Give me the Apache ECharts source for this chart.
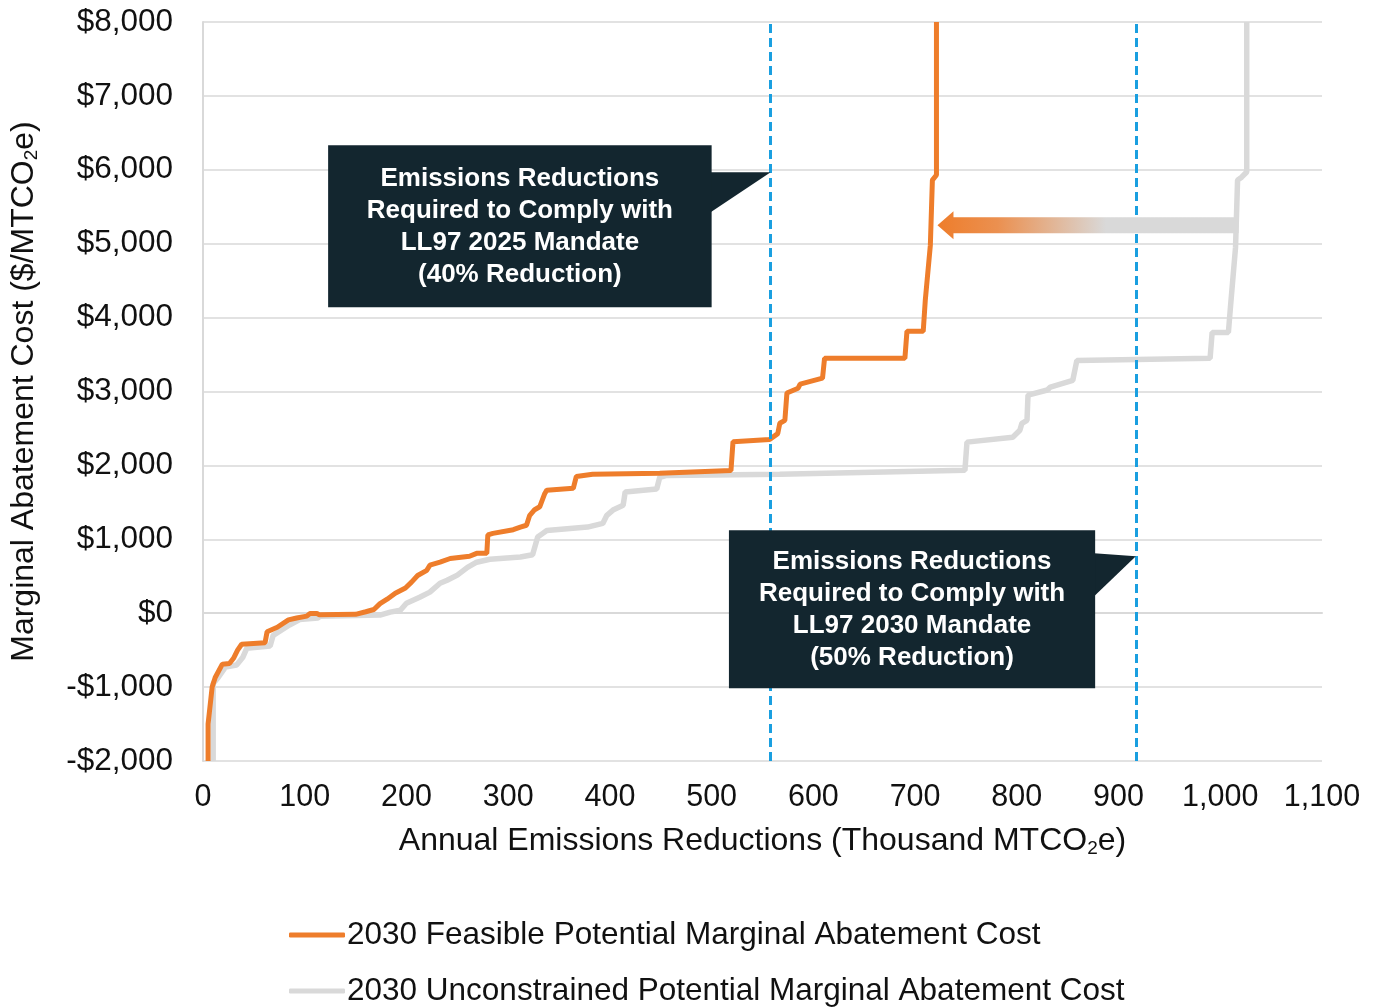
<!DOCTYPE html>
<html>
<head>
<meta charset="utf-8">
<script src="https://cdn.jsdelivr.net/npm/echarts@6/dist/echarts.min.js"></script>
<style>
  html, body { margin: 0; padding: 0; background: #fff; }
  #main { width: 1375px; height: 1007px; }
</style>
</head>
<body>
<div id="main"></div>
<script>
// [reduction (thousand MTCO2e), marginal cost ($/MTCO2e)]
var feasible = [
  [5, -2000], [5, -1500], [9, -1000], [12, -870], [19, -690], [26, -680], [30, -610],
  [34, -500], [38, -420], [61, -400], [63, -250], [73, -190], [84, -90], [92, -65],
  [102, -40], [105, -5], [112, -5], [114, -20], [150, -15], [160, 20], [168, 50],
  [174, 130], [181, 190], [189, 270], [199, 340], [205, 420], [211, 510], [220, 580],
  [223, 650], [233, 690], [243, 740], [262, 770], [269, 810], [279, 810], [280, 1060],
  [285, 1080], [305, 1130], [312, 1165], [318, 1190], [321, 1320], [326, 1400],
  [331, 1440], [336, 1620], [338, 1665], [364, 1690], [367, 1850], [383, 1880],
  [449, 1895], [519, 1930], [521, 2320], [557, 2350], [565, 2430], [567, 2570],
  [572, 2610], [574, 2980], [585, 3045], [587, 3100], [609, 3180], [611, 3450],
  [690, 3450], [692, 3815], [708, 3815], [710, 4230], [715, 4980], [717, 5860],
  [721, 5930], [721, 8000]
];
var unconstrained = [
  [10, -2000], [10, -950], [15, -870], [22, -730], [33, -700], [39, -600], [43, -475],
  [66, -445], [69, -300], [85, -160], [95, -85], [113, -65], [115, -40], [174, -25],
  [184, 15], [194, 40], [200, 135], [213, 215], [223, 285], [233, 405], [240, 445],
  [250, 515], [260, 620], [269, 690], [282, 730], [312, 760], [324, 790], [329, 1030],
  [334, 1080], [338, 1120], [378, 1165], [393, 1215], [397, 1325], [403, 1395],
  [413, 1460], [415, 1640], [446, 1680], [449, 1840], [456, 1865], [567, 1880],
  [749, 1935], [751, 2315], [796, 2380], [803, 2475], [805, 2570], [810, 2610],
  [811, 2950], [830, 3020], [833, 3060], [855, 3150], [859, 3420], [990, 3450],
  [992, 3800], [1008, 3800], [1010, 4140], [1015, 4950], [1017, 5860], [1021, 5900],
  [1026, 5970], [1026, 8000]
];
var mandates = [558, 917];   // LL97 2025 / 2030 required reductions
var seriesNames = [
  '2030 Feasible Potential Marginal Abatement Cost',
  '2030 Unconstrained Potential Marginal Abatement Cost'
];
var callouts = [
  'Emissions Reductions\nRequired to Comply with\nLL97 2025 Mandate\n(40% Reduction)',
  'Emissions Reductions\nRequired to Comply with\nLL97 2030 Mandate\n(50% Reduction)'
];

var ORANGE = '#EE7D2B';
var GRAY = '#D9D9D9';
var NAVY = '#13262F';
var FONT = 'Liberation Sans, Arial, sans-serif';

var chart = echarts.init(document.getElementById('main'));

function legendItem(name, top) {
  return {
    left: 284,
    top: top,
    icon: 'roundRect',
    itemWidth: 56,
    itemHeight: 5,
    textStyle: { fontSize: 31.5, color: '#111', padding: [0, 0, 0, -3] },
    data: [name]
  };
}

var option = {
  animation: false,
  textStyle: { fontFamily: FONT },
  grid: { left: 203, right: 53, top: 22, bottom: 246 },
  legend: [legendItem(seriesNames[0], 914), legendItem(seriesNames[1], 970)],
  xAxis: {
    type: 'value',
    min: 0, max: 1100, interval: 100,
    name: 'Annual Emissions Reductions (Thousand MTCO{sub|2}e)',
    nameLocation: 'middle',
    nameGap: 64,
    nameTextStyle: {
      fontSize: 32, color: '#111',
      rich: { sub: { fontSize: 19, color: '#111', padding: [14, 0, 0, 0] } }
    },
    axisLine: { show: true, lineStyle: { color: '#D9D9D9', width: 2 } },
    axisTick: { show: false },
    splitLine: { show: false },
    axisLabel: {
      fontSize: 30.5, color: '#111', margin: 21,
      formatter: function (v) { return v.toLocaleString('en-US'); }
    }
  },
  yAxis: {
    type: 'value',
    min: -2000, max: 8000, interval: 1000,
    name: 'Marginal Abatement Cost ($/MTCO{sub|2}e)',
    nameLocation: 'middle',
    nameGap: 162,
    nameTextStyle: {
      fontSize: 32, color: '#111',
      rich: { sub: { fontSize: 19, color: '#111', padding: [14, 0, 0, 0] } }
    },
    axisLine: { show: true, lineStyle: { color: '#D9D9D9', width: 2 } },
    axisTick: { show: false },
    splitLine: { lineStyle: { color: '#D9D9D9', width: 1.5 } },
    axisLabel: {
      fontSize: 31.5, color: '#111', margin: 30,
      formatter: function (v) {
        return (v < 0 ? '-$' : '$') + Math.abs(v).toLocaleString('en-US');
      }
    }
  },
  series: [
    {
      name: seriesNames[1],
      type: 'line',
      data: unconstrained,
      symbol: 'none',
      z: 2,
      lineStyle: { color: GRAY, width: 5.5 },
      itemStyle: { color: GRAY }
    },
    {
      name: seriesNames[0],
      type: 'line',
      data: feasible,
      symbol: 'none',
      z: 3,
      lineStyle: { color: ORANGE, width: 5 },
      itemStyle: { color: ORANGE },
      markLine: {
        silent: true,
        symbol: 'none',
        label: { show: false },
        lineStyle: { color: '#1A9FE0', width: 3, type: [9, 5] },
        data: mandates.map(function (m) { return { xAxis: m }; })
      }
    }
  ]
};
chart.setOption(option);

// annotations, positioned from data coordinates
function px(x, y) { return chart.convertToPixel({ gridIndex: 0 }, [x, y]); }

function callout(text, x0, x1, y0, y1, tip, tipY, baseTop, baseBot) {
  var a = px(x0, y0), b = px(x1, y1);
  var t = px(tip, tipY), bt = px(x1, baseTop), bb = px(x1, baseBot);
  return [
    {
      type: 'polygon', z: 100,
      shape: { points: [[b[0] - 1, bt[1]], t, [b[0] - 1, bb[1]]] },
      style: { fill: NAVY }
    },
    {
      type: 'rect', z: 100,
      shape: { x: a[0], y: a[1], width: b[0] - a[0], height: b[1] - a[1] },
      style: { fill: NAVY }
    },
    {
      type: 'text', z: 101,
      x: (a[0] + b[0]) / 2, y: (a[1] + b[1]) / 2 + 1,
      style: {
        text: text, fill: '#fff', fontFamily: FONT, fontWeight: 'bold',
        fontSize: 26, lineHeight: 32, align: 'center', verticalAlign: 'middle'
      }
    }
  ];
}

var arrowY = 5250, arrowFrom = 1018, arrowTip = 722;
var p0 = px(arrowTip, arrowY), p1 = px(arrowFrom, arrowY);
var head = 16, half = 14, bar = 8;
var arrow = {
  type: 'polygon', z: 100,
  shape: {
    points: [
      [p0[0], p0[1]],
      [p0[0] + head, p0[1] - half],
      [p0[0] + head, p0[1] - bar],
      [p1[0], p1[1] - bar],
      [p1[0], p1[1] + bar],
      [p0[0] + head, p0[1] + bar],
      [p0[0] + head, p0[1] + half]
    ]
  },
  style: {
    fill: {
      type: 'linear', x: 0, y: 0, x2: 1, y2: 0,
      colorStops: [
        { offset: 0, color: ORANGE },
        { offset: 0.2, color: '#EB9050' },
        { offset: 0.56, color: GRAY },
        { offset: 1, color: GRAY }
      ]
    }
  }
};

chart.setOption({
  graphic: []
    .concat(callout(callouts[0], 123, 500, 6333, 4141, mandates[0], 5968, 5968, 5426))
    .concat(callout(callouts[1], 517, 877, 1123, -1015, mandates[1], 771, 812, 230))
    .concat([arrow])
});
</script>
</body>
</html>
